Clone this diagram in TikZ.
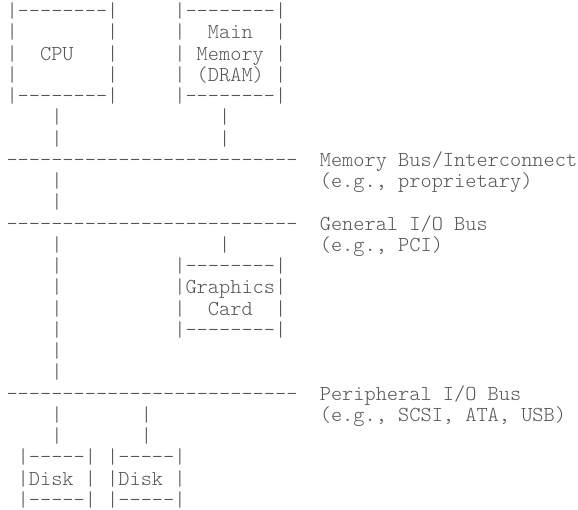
\documentclass[tikz,border=0pt]{standalone}
\usepackage{fontspec}
\newfontfamily\asciifont{lmmonolt10-regular.otf}[Ligatures=TeXOff]
\definecolor{ink}{RGB}{85,85,85}
\tikzset{
  asc/.style={anchor=base west, inner sep=0pt, outer sep=0pt, text=ink,
              font=\asciifont\fontsize{15.99pt}{18pt}\selectfont}
}
% column / row to position (px units)
\newcommand\cx[1]{6.5+#1*11.19}
\newcommand\ry[1]{17.6+#1*21.25}
\newcommand\asciiat[4]{\node[asc] (#1) at ({\cx{#2}},{\ry{#3}}) {#4};}
\begin{document}
\begin{tikzpicture}[x=0.75pt,y=-0.75pt]
\useasboundingbox (0,0) rectangle (578,510);
% CPU box
\asciiat{cpuT}{0}{0}{|--------|}
\asciiat{cpuL1}{0}{1}{|}\asciiat{cpuR1}{9}{1}{|}
\asciiat{cpuL2}{0}{2}{|}\asciiat{cpu}{3}{2}{CPU}\asciiat{cpuR2}{9}{2}{|}
\asciiat{cpuL3}{0}{3}{|}\asciiat{cpuR3}{9}{3}{|}
\asciiat{cpuB}{0}{4}{|--------|}
% Memory box
\asciiat{memT}{15}{0}{|--------|}
\asciiat{memL1}{15}{1}{|}\asciiat{mem1}{18}{1}{Main}\asciiat{memR1}{24}{1}{|}
\asciiat{memL2}{15}{2}{|}\asciiat{mem2}{17}{2}{Memory}\asciiat{memR2}{24}{2}{|}
\asciiat{memL3}{15}{3}{|}\asciiat{mem3}{17}{3}{(DRAM)}\asciiat{memR3}{24}{3}{|}
\asciiat{memB}{15}{4}{|--------|}
% links to memory bus
\asciiat{c5}{4}{5}{|}\asciiat{m5}{19}{5}{|}
\asciiat{c6}{4}{6}{|}\asciiat{m6}{19}{6}{|}
% memory bus
\asciiat{membus}{0}{7}{--------------------------}
\asciiat{membusA}{28}{7}{Memory Bus/Interconnect}
\asciiat{c8}{4}{8}{|}\asciiat{membusB}{28}{8}{(e.g., proprietary)}
\asciiat{c9}{4}{9}{|}
% general I/O bus
\asciiat{iobus}{0}{10}{--------------------------}
\asciiat{iobusA}{28}{10}{General I/O Bus}
\asciiat{c11}{4}{11}{|}\asciiat{g11}{19}{11}{|}\asciiat{iobusB}{28}{11}{(e.g., PCI)}
\asciiat{c12}{4}{12}{|}\asciiat{gT}{15}{12}{|--------|}
\asciiat{c13}{4}{13}{|}\asciiat{g1}{15}{13}{|Graphics|}
\asciiat{c14}{4}{14}{|}\asciiat{gL2}{15}{14}{|}\asciiat{g2}{18}{14}{Card}\asciiat{gR2}{24}{14}{|}
\asciiat{c15}{4}{15}{|}\asciiat{gB}{15}{15}{|--------|}
\asciiat{c16}{4}{16}{|}
\asciiat{c17}{4}{17}{|}
% peripheral bus
\asciiat{pbus}{0}{18}{--------------------------}
\asciiat{pbusA}{28}{18}{Peripheral I/O Bus}
\asciiat{d19}{4}{19}{|}\asciiat{e19}{12}{19}{|}\asciiat{pbusB}{28}{19}{(e.g., SCSI, ATA, USB)}
\asciiat{d20}{4}{20}{|}\asciiat{e20}{12}{20}{|}
% disks
\asciiat{dT}{1}{21}{|-----|}\asciiat{eT}{9}{21}{|-----|}
\asciiat{d1}{1}{22}{|Disk |}\asciiat{e1}{9}{22}{|Disk |}
\asciiat{dB}{1}{23}{|-----|}\asciiat{eB}{9}{23}{|-----|}
\end{tikzpicture}
\end{document}
